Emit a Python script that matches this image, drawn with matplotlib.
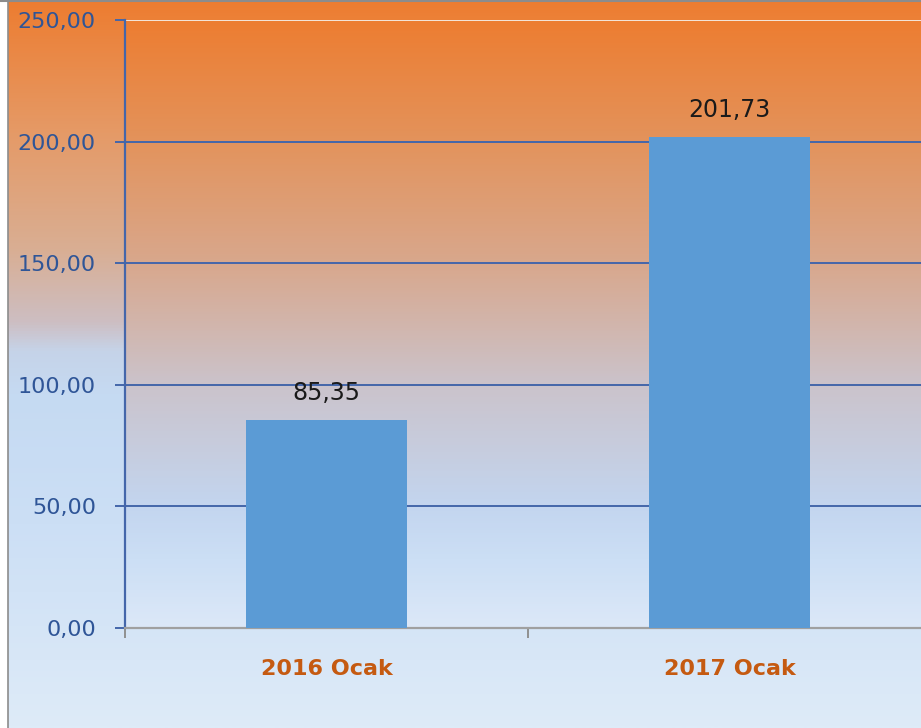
import numpy as np
import matplotlib
matplotlib.use("Agg")
import matplotlib.pyplot as plt
from matplotlib.colors import LinearSegmentedColormap
from matplotlib.lines import Line2D

categories = ["2016 Ocak", "2017 Ocak"]
values = [85.35, 201.73]
value_labels = ["85,35", "201,73"]
yticks = [0, 50, 100, 150, 200, 250]
ytick_labels = ["0,00", "50,00", "100,00", "150,00", "200,00", "250,00"]

fig = plt.figure(figsize=(9.21, 7.28), dpi=100)

# chart area gradient (orange top -> light blue, turns blue about halfway)
outer = LinearSegmentedColormap.from_list("outer", [
    (0.0, "#ED7D31"), (0.18, "#E59A67"), (0.34, "#D9AE93"), (0.44, "#CDBEC2"),
    (0.48, "#C6D3E8"), (0.54, "#C5DAF2"), (0.72, "#CCDFF5"), (1.0, "#DEEBF8")])
# plot area gradient
inner = LinearSegmentedColormap.from_list("inner", [
    (0.0, "#ED7D31"), (0.2, "#E3935C"), (0.405, "#D8A88E"), (0.60, "#CBC3CB"),
    (0.80, "#C3D5EF"), (0.89, "#CCDFF5"), (1.0, "#DCE8F8")])
grad = np.linspace(0, 1, 512).reshape(-1, 1)

bg = fig.add_axes([8 / 921, 0, 1 - 8 / 921, 1 - 2 / 728], zorder=0)
bg.imshow(grad, cmap=outer, aspect="auto", extent=[0, 1, 0, 1], origin="upper")
bg.set_axis_off()

# frame lines
fig.add_artist(Line2D([7.5 / 921, 7.5 / 921], [0, 1], color="#8C8C8C", lw=1.2))
fig.add_artist(Line2D([0, 1], [1 - 1 / 728, 1 - 1 / 728], color="#8C8C8C", lw=1.5))

ax = fig.add_axes([125 / 921, 100 / 728, 806 / 921, 608 / 728], zorder=1)
ax.patch.set_alpha(0)
ax.imshow(grad, cmap=inner, aspect="auto", extent=[-0.5, 1.5, 0, 250],
          origin="upper", zorder=0)

x = np.arange(len(categories))
ax.bar(x, values, width=0.4, color="#5B9BD5", zorder=3)
for xi, v, lab in zip(x, values, value_labels):
    ax.text(xi, v + 8.5, lab, ha="center", va="baseline", fontsize=17,
            family="DejaVu Sans", color="#1A1A1A", zorder=4)

ax.set_xlim(-0.5, 1.5)
ax.set_ylim(0, 250)

# grid lines
for yv in yticks[1:-1]:
    ax.axhline(yv, color="#4466AA", lw=1.4, zorder=1)
ax.axhline(250, color="#F4E6DC", lw=1.4, zorder=1)

ax.set_yticks(yticks)
ax.set_yticklabels(ytick_labels, fontsize=16, family="DejaVu Sans", color="#2F5597")
ax.tick_params(axis="y", length=7, width=1.4, color="#4466AA", pad=14)

ax.set_xticks(x)
ax.set_xticklabels(categories, fontsize=16, family="DejaVu Sans", fontweight="bold",
                   color="#C55A11")
ax.tick_params(axis="x", length=0, pad=22)
ax.set_xticks([-0.5, 0.5, 1.5], minor=True)
ax.tick_params(axis="x", which="minor", length=7, width=1.4, color="#909090")

for s in ["top", "right"]:
    ax.spines[s].set_visible(False)
ax.spines["left"].set_color("#4466AA")
ax.spines["left"].set_linewidth(1.6)
ax.spines["bottom"].set_color("#A0A0A0")
ax.spines["bottom"].set_linewidth(1.6)

fig.savefig("out.png", dpi=100)
